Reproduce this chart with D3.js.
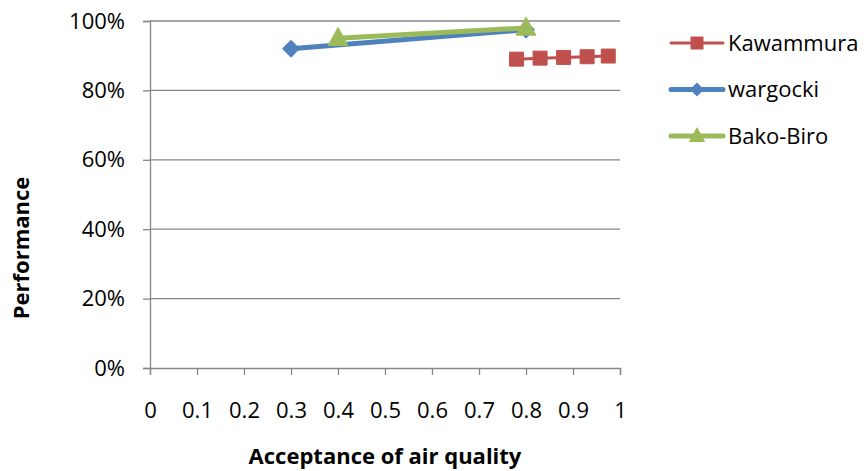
<!DOCTYPE html>
<html>
<head>
<meta charset="utf-8">
<script src="https://cdn.jsdelivr.net/npm/d3@7"></script>
<style>
  body { margin: 0; background: #fff; }
  svg { display: block; font-family: "Open Sans", sans-serif; }
</style>
</head>
<body>
<svg id="chart" width="866" height="471"></svg>
<script>
// Series data: acceptance of air quality (x) vs performance (y, fraction)
const kawammuraX = [0.78, 0.83, 0.88, 0.93, 0.975];
const kawammuraY = [0.890, 0.893, 0.895, 0.897, 0.899];
const wargockiX = [0.3, 0.8];
const wargockiY = [0.92, 0.975];
const bakoBiroX = [0.4, 0.8];
const bakoBiroY = [0.95, 0.98];

const xTicks = [0, 0.1, 0.2, 0.3, 0.4, 0.5, 0.6, 0.7, 0.8, 0.9, 1];
const yTicks = [0, 0.2, 0.4, 0.6, 0.8, 1.0];
const seriesNames = ["Kawammura", "wargocki", "Bako-Biro"];

const svg = d3.select("#chart");
const plot = { left: 150, right: 620, top: 21, bottom: 368 };
const labelFont = "'Open Sans', sans-serif";
const labelSize = 22;

const x = d3.scaleLinear().domain([0, 1]).range([plot.left, plot.right]);
const y = d3.scaleLinear().domain([0, 1]).range([plot.bottom, plot.top]);

const gridColor = "#868686";

// Horizontal gridlines
svg.append("g").selectAll("line").data(yTicks.filter(d => d > 0)).join("line")
  .attr("x1", plot.left).attr("x2", plot.right)
  .attr("y1", d => y(d)).attr("y2", d => y(d))
  .attr("stroke", gridColor).attr("stroke-width", 1.3);

// Y axis
const yAxis = svg.append("g").attr("transform", `translate(${plot.left},0)`)
  .call(d3.axisLeft(y).tickValues(yTicks).tickFormat(d3.format(".0%")).tickSize(7).tickPadding(18));
yAxis.select(".domain").attr("stroke", gridColor).attr("stroke-width", 1.3);
yAxis.selectAll(".tick line").attr("stroke", gridColor).attr("stroke-width", 1.3);
yAxis.selectAll("text").attr("font-size", labelSize).attr("fill", "#000")
  .attr("font-family", labelFont);

// X axis
const xAxis = svg.append("g").attr("transform", `translate(0,${plot.bottom})`)
  .call(d3.axisBottom(x).tickValues(xTicks).tickFormat(d => d3.format("")(d)).tickSizeOuter(0).tickSize(7).tickPadding(27));
xAxis.select(".domain").attr("stroke", gridColor).attr("stroke-width", 1.3);
xAxis.selectAll(".tick line").attr("stroke", gridColor).attr("stroke-width", 1.3);
xAxis.selectAll("text").attr("font-size", labelSize).attr("fill", "#000")
  .attr("font-family", labelFont);

// Axis titles
svg.append("text").attr("x", 385).attr("y", 464).attr("text-anchor", "middle")
  .attr("font-size", 22).attr("font-weight", "bold").text("Acceptance of air quality");
svg.append("text").attr("transform", "translate(29,248) rotate(-90)").attr("text-anchor", "middle")
  .attr("font-size", 22).attr("font-weight", "bold").text("Performance");

// Series definitions
const series = [
  { name: seriesNames[0], xs: kawammuraX, ys: kawammuraY, color: "#C0504D", marker: "square", lw: 3 },
  { name: seriesNames[1], xs: wargockiX, ys: wargockiY, color: "#4F81BD", marker: "diamond", lw: 5 },
  { name: seriesNames[2], xs: bakoBiroX, ys: bakoBiroY, color: "#9BBB59", marker: "triangle", lw: 5 }
];

function markerPath(type, s) {
  if (type === "square") return `M${-s/2},${-s/2}h${s}v${s}h${-s}Z`;
  if (type === "diamond") return `M0,${-s/2}L${s/2},0L0,${s/2}L${-s/2},0Z`;
  return `M0,${-s*0.6}L${s*0.55},${s*0.4}L${-s*0.55},${s*0.4}Z`;
}
const markerSize = { square: 14, diamond: 17, triangle: 18 };

const line = d3.line().x(d => x(d[0])).y(d => y(d[1]));

series.forEach(s => {
  const pts = s.xs.map((v, i) => [v, s.ys[i]]);
  const g = svg.append("g");
  g.append("path").datum(pts).attr("d", line).attr("fill", "none")
    .attr("stroke", s.color).attr("stroke-width", s.lw).attr("stroke-linecap", "round");
  g.selectAll("path.m").data(pts).join("path").attr("class", "m")
    .attr("transform", d => `translate(${x(d[0])},${y(d[1])})`)
    .attr("d", markerPath(s.marker, markerSize[s.marker]))
    .attr("fill", s.color).attr("stroke", s.color).attr("stroke-width", 1);
});

// Legend
const legend = svg.append("g");
series.forEach((s, i) => {
  const ly = 43 + i * 46.5;
  legend.append("line").attr("x1", 671).attr("x2", 723).attr("y1", ly).attr("y2", ly)
    .attr("stroke", s.color).attr("stroke-width", s.lw).attr("stroke-linecap", "round");
  legend.append("path").attr("transform", `translate(697,${ly})`)
    .attr("d", markerPath(s.marker, s.marker === "square" ? 13 : (s.marker === "diamond" ? 14 : 15)))
    .attr("fill", s.color);
  legend.append("text").attr("x", 728).attr("y", ly + 7.5).attr("font-size", labelSize)
    .attr("font-family", labelFont).attr("fill", "#000").text(s.name);
});
</script>
</body>
</html>
